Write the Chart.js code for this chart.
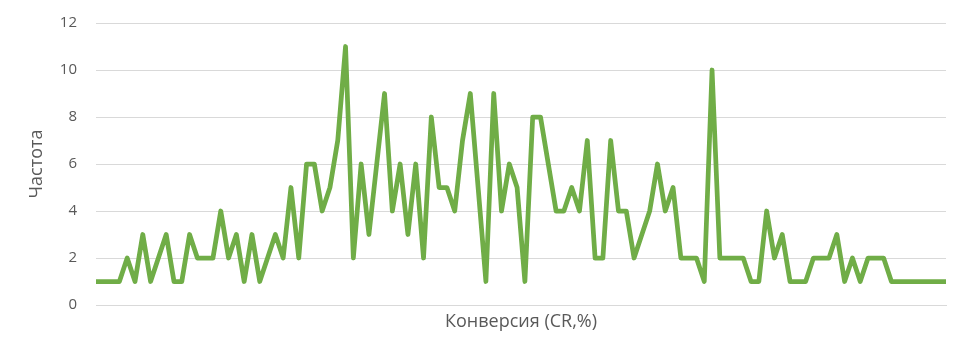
<!DOCTYPE html>
<html>
<head>
<meta charset="utf-8">
<script src="https://cdn.jsdelivr.net/npm/chart.js@4.4.1/dist/chart.umd.min.js"></script>
<style>
  html, body { margin: 0; padding: 0; background: #fff; }
  #wrap { width: 970px; height: 360px; }
</style>
</head>
<body>
<div id="wrap"><canvas id="freqChart" width="970" height="360"></canvas></div>
<script>
// frequency values, one per conversion bucket
var frequency = [
    1, 1, 1, 1, 2, 1, 3, 1, 2, 3,
    1, 1, 3, 2, 2, 2, 4, 2, 3, 1,
    3, 1, 2, 3, 2, 5, 2, 6, 6, 4,
    5, 7, 11, 2, 6, 3, 6, 9, 4, 6,
    3, 6, 2, 8, 5, 5, 4, 7, 9, 5,
    1, 9, 4, 6, 5, 1, 8, 8, 6, 4,
    4, 5, 4, 7, 2, 2, 7, 4, 4, 2,
    3, 4, 6, 4, 5, 2, 2, 2, 1, 10,
    2, 2, 2, 2, 1, 1, 4, 2, 3, 1,
    1, 1, 2, 2, 2, 3, 1, 2, 1, 2,
    2, 2, 1, 1, 1, 1, 1, 1, 1, 1
];
// buckets have no printed labels on the axis
var buckets = frequency.map(function(v, i){ return String(i + 1); });
var yTicks = [0, 2, 4, 6, 8, 10, 12];

var xTitle = 'Конверсия (CR,%)';
var yTitle = 'Частота';

Chart.defaults.font.family = '"Open Sans", sans-serif';
Chart.defaults.color = '#595959';

var ctx = document.getElementById('freqChart').getContext('2d');
var freqChart = new Chart(ctx, {
    type: 'line',
    data: {
        labels: buckets,
        datasets: [{
            label: yTitle,
            data: frequency,
            borderColor: '#70AD47',
            borderWidth: 4.75,
            borderJoinStyle: 'round',
            borderCapStyle: 'butt',
            pointRadius: 0,
            tension: 0,
            fill: false
        }]
    },
    options: {
        responsive: false,
        animation: false,
        layout: {
            padding: { left: 0, right: 24, top: 23, bottom: 0 }
        },
        plugins: {
            legend: { display: false },
            tooltip: { enabled: false }
        },
        scales: {
            x: {
                offset: false,
                ticks: { display: false },
                grid: { display: false, drawTicks: false },
                border: { display: true, color: '#D9D9D9', width: 1 },
                title: {
                    display: true,
                    text: xTitle,
                    font: { size: 18 },
                    color: '#595959',
                    padding: { top: 0, bottom: 27 }
                },
                afterFit: function(scale) { scale.height = 55; }
            },
            y: {
                min: 0,
                max: 12,
                afterBuildTicks: function(scale) {
                    scale.ticks = yTicks.map(function(v){ return { value: v }; });
                },
                ticks: { padding: 19, font: { size: 15 }, color: '#595959' },
                grid: { color: '#D9D9D9', lineWidth: 1, drawTicks: false },
                border: { display: false },
                title: {
                    display: true,
                    text: yTitle,
                    font: { size: 18 },
                    color: '#595959',
                    padding: { top: 26, bottom: 0 }
                },
                afterFit: function(scale) {
                    scale.width = 96;
                    scale.paddingTop = 0;
                    scale.paddingBottom = 0;
                }
            }
        }
    }
});
</script>
</body>
</html>
